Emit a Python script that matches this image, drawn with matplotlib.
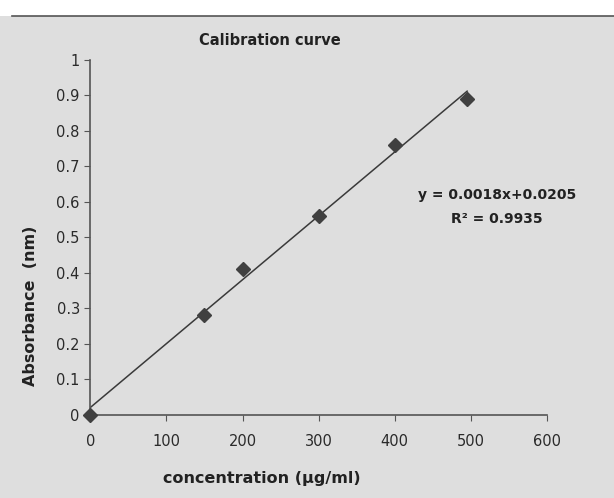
import numpy as np
import matplotlib.pyplot as plt
from matplotlib.patches import Rectangle

plt.rcParams['font.family'] = ['DejaVu Sans']

concentration = [0, 150, 200, 300, 400, 495]
absorbance = [0.0, 0.28, 0.41, 0.56, 0.76, 0.89]
slope = 0.0018
intercept = 0.0205
r2 = 0.9935
x_ticks = [0, 100, 200, 300, 400, 500, 600]
y_ticks = [0, 0.1, 0.2, 0.3, 0.4, 0.5, 0.6, 0.7, 0.8, 0.9, 1]

fig = plt.figure(figsize=(6.14, 4.98), dpi=100, facecolor='#dedede')
fig.patches.append(Rectangle((0, 0.968), 1, 0.032, transform=fig.transFigure,
                             facecolor='white', edgecolor='none', zorder=0))
fig.add_artist(plt.Line2D([0.02, 1], [0.968, 0.968], transform=fig.transFigure,
                          color='#555555', lw=1.2))

ax = fig.add_axes([0.147, 0.167, 0.744, 0.713])
ax.set_facecolor('none')

xf = np.array([0, concentration[-1]])
ax.plot(xf, slope * xf + intercept, color='#3a3a3a', lw=1.1, zorder=2)
ax.plot(concentration, absorbance, 'D', color='#404040', markersize=7, zorder=3,
        clip_on=False)

ax.set_xlim(0, 600)
ax.set_ylim(0, 1)
ax.set_xticks(x_ticks)
ax.set_yticks(y_ticks)
ax.set_yticklabels([f'{v:g}' for v in y_ticks])
for s in ['top', 'right']:
    ax.spines[s].set_visible(False)
for s in ['left', 'bottom']:
    ax.spines[s].set_color('#555555')
    ax.spines[s].set_linewidth(1.2)
ax.tick_params(colors='#555555', labelcolor='#2a2a2a', labelsize=10.5, length=4)
ax.tick_params(axis='x', pad=10)

fig.text(0.439, 0.918, 'Calibration curve', ha='center', va='center',
         fontsize=10.5, fontweight='bold', color='#222222')
fig.text(0.427, 0.04, 'concentration (µg/ml)', ha='center', va='center',
         fontsize=11.5, fontweight='bold', color='#222222')
fig.text(0.049, 0.385, 'Absorbance  (nm)', ha='center', va='center', rotation=90,
         fontsize=11.5, fontweight='bold', color='#222222')
ax.text(0.89, 0.585, f'y = {slope}x+{intercept}\nR² = {r2}', transform=ax.transAxes,
        ha='center', va='center', fontsize=10, fontweight='bold', color='#222222',
        linespacing=1.9)

fig.savefig('out.png', dpi=100, facecolor=fig.get_facecolor())
